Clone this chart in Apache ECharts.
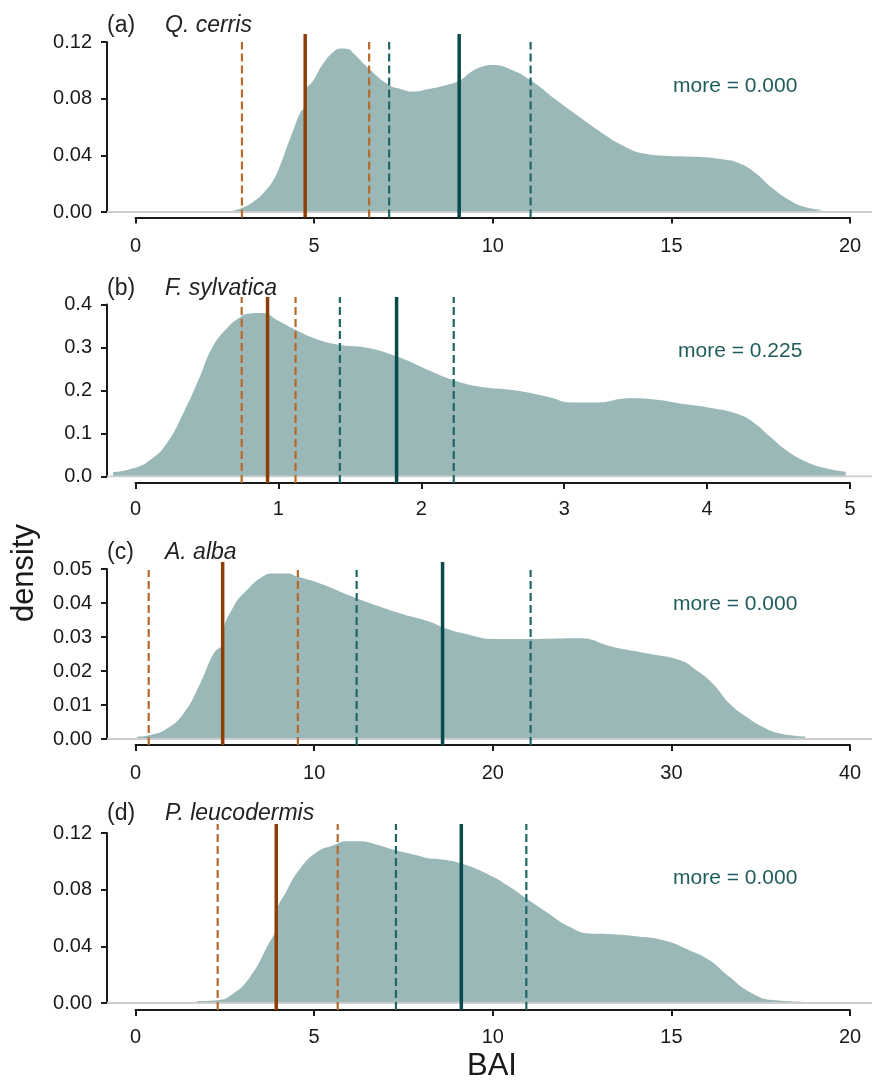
<!DOCTYPE html>
<html>
<head>
<meta charset="utf-8">
<script src="https://cdn.jsdelivr.net/npm/echarts@6/dist/echarts.min.js"></script>
<style>
html,body{margin:0;padding:0;background:#fff;}
#chart{width:872px;height:1083px;}
</style>
</head>
<body>
<div id="chart"></div>
<script>
// ---------- DATA ----------
const panelTags = ['(a)', '(b)', '(c)', '(d)'];
const speciesNames = ['Q. cerris', 'F. sylvatica', 'A. alba', 'P. leucodermis'];
const moreValues = ['more = 0.000', 'more = 0.225', 'more = 0.000', 'more = 0.000'];
const xAxisMax = [20, 5, 40, 20];
const xAxisStep = [5, 1, 10, 5];
const yAxisMax = [0.12, 0.4, 0.05, 0.12];
const yAxisStep = [0.04, 0.1, 0.01, 0.04];
const yDecimals = [2, 1, 2, 2];

// density curves (BAI, density)
const cerrisX = [2.74,3.0,3.3,3.6,3.86,4.05,4.24,4.45,4.61,4.74,4.76,4.98,5.26,5.54,5.75,5.95,6.1,6.54,7.1,7.4,7.77,8.24,8.6,9.08,9.4,9.7,10.0,10.47,11.06,11.78,12.43,13.08,13.64,14.2,14.95,15.69,16.43,16.9,17.36,17.83,18.3,18.76,19.27];
const cerrisY = [0.001,0.003,0.0073,0.014,0.0226,0.033,0.046,0.06,0.07,0.075,0.085,0.093,0.105,0.113,0.1155,0.115,0.112,0.101,0.0896,0.087,0.085,0.087,0.089,0.093,0.099,0.1026,0.1038,0.101,0.093,0.079,0.067,0.0555,0.047,0.0414,0.0395,0.039,0.0372,0.0344,0.0273,0.0167,0.0085,0.0033,0.0014];

const sylvaticaX = [-0.157,-0.015,0.1,0.218,0.334,0.45,0.54,0.64,0.73,0.8,0.89,0.99,1.12,1.27,1.43,1.61,1.83,2.06,2.227,2.41,2.64,2.876,3.06,3.22,3.46,3.6,3.81,4.04,4.2,4.32,4.44,4.55,4.67,4.81,4.97];
const sylvaticaY = [0.01,0.019,0.038,0.077,0.147,0.232,0.302,0.345,0.37,0.379,0.38,0.364,0.341,0.319,0.306,0.3,0.279,0.246,0.224,0.209,0.201,0.186,0.172,0.172,0.182,0.18,0.17,0.159,0.147,0.127,0.093,0.062,0.038,0.021,0.011];

const albaX = [0.1,0.84,1.77,2.7,3.63,4.38,4.86,4.9,5.49,6.24,6.98,7.7,8.5,9.09,10.3,12.38,14.8,16.48,17.19,18.34,20.2,22.07,24.86,26.7,28.59,30.45,31.38,32.3,33.24,34.17,35.1,36.03,37.5];
const albaY = [0.0007,0.0012,0.0031,0.0076,0.0164,0.0252,0.028,0.031,0.039,0.0438,0.0473,0.0487,0.0487,0.0477,0.0458,0.0414,0.037,0.0345,0.0329,0.0311,0.0294,0.0294,0.0296,0.0271,0.0252,0.0232,0.0203,0.0164,0.0105,0.0066,0.0036,0.0017,0.0007];

const leucoX = [1.72,2.3,2.75,3.21,3.68,3.93,3.95,4.24,4.61,5.08,5.54,5.9,6.28,6.66,7.29,7.87,8.24,8.52,9.12,9.92,10.47,10.94,11.5,12.15,12.7,13.36,14.0,14.76,15.5,16.06,16.62,17.18,17.83,18.76];
const leucoY = [0.0014,0.002,0.0068,0.0185,0.0397,0.054,0.063,0.0796,0.095,0.1066,0.1113,0.1142,0.1142,0.1125,0.1078,0.1043,0.102,0.1015,0.0985,0.0902,0.082,0.0738,0.0643,0.0538,0.0491,0.0486,0.0472,0.0444,0.0373,0.0303,0.0185,0.008,0.0021,0.0009];

// reference lines: [lower, mean, upper]
const brownLines = [[2.98,4.75,6.54],[0.743,0.924,1.12],[0.74,4.88,9.09],[2.30,3.94,5.66]];
const tealLines  = [[7.1,9.06,11.06],[1.43,1.827,2.227],[12.38,17.19,22.12],[7.29,9.12,10.94]];

const curvesX = [cerrisX, sylvaticaX, albaX, leucoX];
const curvesY = [cerrisY, sylvaticaY, albaY, leucoY];

// ---------- LAYOUT ----------
const L = [
  {y0:212,   yTop:42,    axisY:217.5, lblMargin:19, tagY:27,  moreX:673, moreY:87,  solidTop:34,  dashTop:42},
  {y0:476.5, yTop:304.5, axisY:483,   lblMargin:16, tagY:290, moreX:678, moreY:352, solidTop:297, dashTop:297},
  {y0:739,   yTop:569,   axisY:745,   lblMargin:18, tagY:554, moreX:673, moreY:605, solidTop:562, dashTop:570},
  {y0:1003,  yTop:833,   axisY:1010,  lblMargin:17, tagY:815, moreX:673, moreY:879, solidTop:824, dashTop:824}
];
const plotLeft = 107, plotRight = 872, zeroPx = 135.5, endPx = 850;
const FILL = '#9bb8b8', BROWN = '#8b3f06', BROWN_D = '#b56a2c', TEAL = '#0a4a4a', TEAL_D = '#1f6666';
const FONT = 'Liberation Sans, Arial, sans-serif';

const grids = [], xAxes = [], yAxes = [], series = [], graphics = [];

for (let i = 0; i < 4; i++) {
  const l = L[i];
  const ppu = (endPx - zeroPx) / xAxisMax[i];
  const xmin = -(zeroPx - plotLeft) / ppu;
  const xmax = xAxisMax[i] + (plotRight - endPx) / ppu;
  const ppy = (l.y0 - l.yTop) / yAxisMax[i];
  const yBottom = -(l.axisY - l.y0) / ppy;
  const ySolid = (l.y0 - l.solidTop) / ppy;
  const yDash = (l.y0 - l.dashTop) / ppy;

  grids.push({left: plotLeft, top: l.yTop, width: plotRight - plotLeft, height: l.y0 - l.yTop, containLabel: false});
  grids.push({left: zeroPx, top: l.axisY - 1, width: endPx - zeroPx, height: 1, containLabel: false});

  xAxes.push({gridIndex: 2*i, type: 'value', min: xmin, max: xmax, show: false});
  xAxes.push({gridIndex: 2*i+1, type: 'value', min: 0, max: xAxisMax[i], interval: xAxisStep[i],
    axisLine: {show: true, onZero: false, lineStyle: {color: '#1a1a1a', width: 2}},
    axisTick: {show: true, length: 6, lineStyle: {color: '#1a1a1a', width: 2}},
    axisLabel: {show: true, margin: l.lblMargin, fontSize: 20, lineHeight: 20, color: '#1a1a1a', fontFamily: FONT},
    splitLine: {show: false}});

  yAxes.push({gridIndex: 2*i, type: 'value', min: 0, max: yAxisMax[i], interval: yAxisStep[i],
    axisLine: {show: true, onZero: false, lineStyle: {color: '#1a1a1a', width: 2}},
    axisTick: {show: true, length: 6, lineStyle: {color: '#1a1a1a', width: 2}},
    axisLabel: {show: true, margin: 15, fontSize: 20, color: '#1a1a1a', fontFamily: FONT,
      padding: [5, 0, 0, 0], formatter: v => v.toFixed(yDecimals[i])},
    splitLine: {show: false}});
  yAxes.push({gridIndex: 2*i+1, type: 'value', show: false, min: 0, max: 1});

  series.push({type: 'line', xAxisIndex: 2*i, yAxisIndex: 2*i, symbol: 'none', z: 1,
    smooth: 0.5,
    data: curvesX[i].map((x, k) => [x, curvesY[i][k]]),
    lineStyle: {width: 0, color: FILL}, itemStyle: {color: FILL},
    areaStyle: {color: FILL, opacity: 1}, silent: true});
  series.push({type: 'line', xAxisIndex: 2*i, yAxisIndex: 2*i, symbol: 'none', z: 2,
    data: [[xmin, 0], [xmax, 0]], lineStyle: {width: 2, color: '#cdcdcd'}, silent: true});

  const vline = (x, top, color, width, dashed) => series.push({
    type: 'line', xAxisIndex: 2*i, yAxisIndex: 2*i, symbol: 'none', z: 5, clip: false, silent: true,
    data: [[x, yBottom], [x, top]],
    lineStyle: {color: color, width: width, type: dashed ? [8, 4] : 'solid', cap: 'butt'}
  });
  vline(brownLines[i][0], yDash, BROWN_D, 2.2, true);
  vline(brownLines[i][2], yDash, BROWN_D, 2.2, true);
  vline(tealLines[i][0], yDash, TEAL_D, 2.2, true);
  vline(tealLines[i][2], yDash, TEAL_D, 2.2, true);
  vline(brownLines[i][1], ySolid, BROWN, 3.5, false);
  vline(tealLines[i][1], ySolid, TEAL, 3.5, false);

  graphics.push({type: 'text', left: 107, top: l.tagY - 13, z: 10,
    style: {text: panelTags[i], fontSize: 23, fill: '#222', fontFamily: FONT}});
  graphics.push({type: 'text', left: 165, top: l.tagY - 13, z: 10,
    style: {text: speciesNames[i], fontSize: 23, fontStyle: 'italic', fill: '#222', fontFamily: FONT}});
  graphics.push({type: 'text', left: l.moreX, top: l.moreY - 11, z: 10,
    style: {text: moreValues[i], fontSize: 21, fill: '#1f5c5c', fontFamily: FONT}});
}

graphics.push({type: 'text', z: 10, x: 24, y: 573, rotation: Math.PI / 2,
  style: {text: 'density', fontSize: 31, fill: '#1a1a1a', align: 'center', verticalAlign: 'middle', fontFamily: FONT}});
graphics.push({type: 'text', z: 10, x: 492, y: 1066,
  style: {text: 'BAI', fontSize: 31, fill: '#1a1a1a', align: 'center', verticalAlign: 'middle', fontFamily: FONT}});

const chart = echarts.init(document.getElementById('chart'), null, {renderer: 'canvas'});
chart.setOption({
  animation: false,
  backgroundColor: '#fff',
  grid: grids, xAxis: xAxes, yAxis: yAxes, series: series, graphic: graphics
});
</script>
</body>
</html>
